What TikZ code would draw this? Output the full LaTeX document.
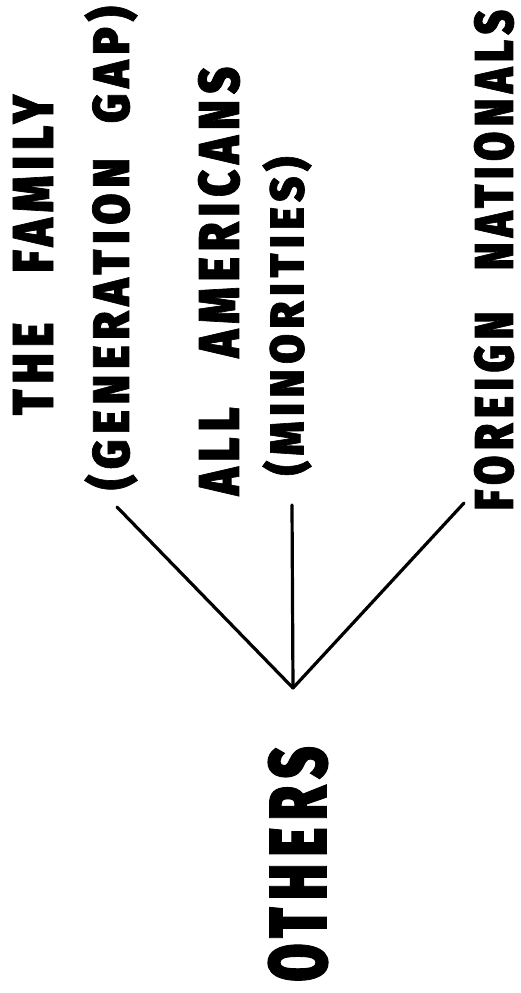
\documentclass[tikz,border=0pt]{standalone}
\usepackage{fontspec}
\usepackage{graphicx}
\newfontfamily\blk{Fira Sans Black}[LetterSpace=14,FakeBold=1.5]
\begin{document}
\begin{tikzpicture}[x=1pt,y=-1pt,
  lbl/.style={inner sep=0pt, outer sep=0pt, rotate=90},
  conn/.style={line width=3.2pt, line cap=round}]
\useasboundingbox (0,0) rectangle (521,993);
\node[lbl] (fam) at (33,255) {\resizebox*{320pt}{40pt}{\blk THE\hspace{1.1em}FAMILY}};
\node[lbl] (gen) at (111,248) {\resizebox*{483pt}{53pt}{\blk (GENERATION\hspace{0.8em}GAP)}};
\node[lbl] (all) at (219,281) {\resizebox*{428pt}{42pt}{\blk ALL\hspace{1.1em}AMERICANS}};
\node[lbl] (min) at (287,316) {\resizebox*{318pt}{49pt}{\blk (MINORITIES)}};
\node[lbl] (for) at (494,260) {\resizebox*{500pt}{40pt}{\blk FOREIGN\hspace{1.0em}NATIONALS}};
\node[lbl] (oth) at (298,864) {\resizebox*{235pt}{60pt}{\blk OTHERS}};
\coordinate (hub) at (293,688);
\coordinate (e1) at (117,507);
\coordinate (e2) at (292,505);
\coordinate (e3) at (464,503);
\draw[conn] (hub) -- (e1);
\draw[conn] (hub) -- (e2);
\draw[conn] (hub) -- (e3);
\end{tikzpicture}
\end{document}
